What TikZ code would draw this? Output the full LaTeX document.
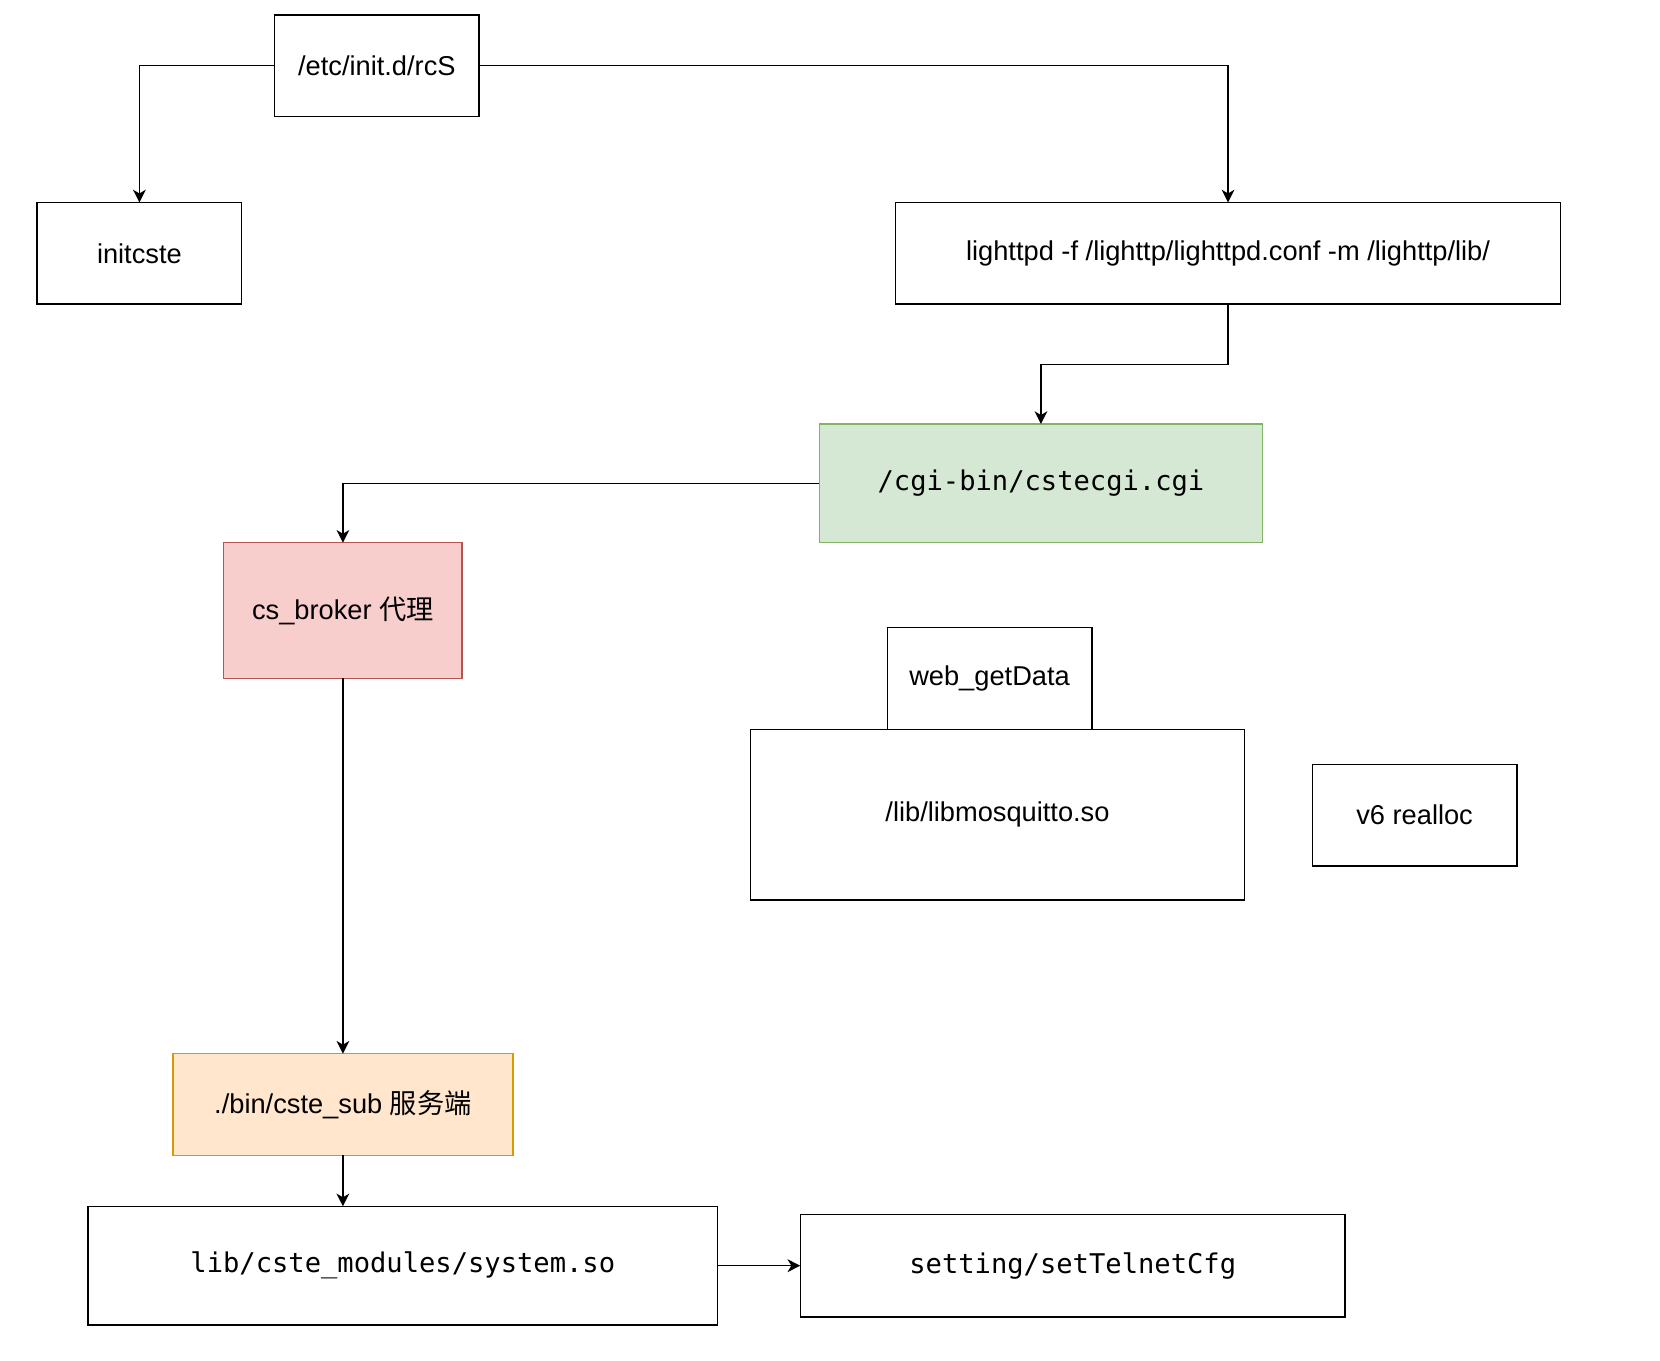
\documentclass[tikz,border=0pt]{standalone}
\usepackage{fontspec}
\setmainfont{Liberation Sans}
\setmonofont{DejaVu Sans Mono}
\newfontfamily\cjk{Noto Sans CJK SC}
\usetikzlibrary{arrows.meta}

\definecolor{greenfill}{HTML}{D5E8D4}
\definecolor{greenline}{HTML}{82B366}
\definecolor{redfill}{HTML}{F8CECC}
\definecolor{redline}{HTML}{B85450}
\definecolor{orangefill}{HTML}{FFE6CC}
\definecolor{orangeline}{HTML}{D79B00}

\tikzset{
    box/.style={draw, line width=1.4pt, inner sep=0pt, outer sep=0pt,
        font=\fontsize{25.7}{30}\selectfont},
    code/.style={font=\ttfamily\fontsize{25.6}{30}\selectfont},
    arr/.style={line width=1.4pt, -{Stealth[length=12pt,width=12pt,inset=3.5pt]}}
}

\begin{document}
\begin{tikzpicture}[x=1pt,y=-1pt]
    \useasboundingbox (0,0) rectangle (1566,1283);

    % start script and the two things it launches
    \node[box, minimum width=193, minimum height=96] (rcs) at (355.5,62) {/etc/init.d/rcS};
    \node[box, minimum width=193, minimum height=96] (initcste) at (131.5,239) {initcste};
    \node[box, minimum width=627, minimum height=96] (lighttpd) at (1158.5,239) {lighttpd -f /lighttp/lighttpd.conf -m /lighttp/lib/};

    % web side
    \node[box, code, fill=greenfill, draw=greenline, minimum width=418, minimum height=112] (cgi) at (982,456) {/cgi-bin/cstecgi.cgi};
    \node[box, fill=redfill, draw=redline, minimum width=225, minimum height=128] (broker) at (323.5,576) {cs\_broker {\cjk 代理}};

    % loose boxes, no connectors
    \node[box, minimum width=193, minimum height=96] (getdata) at (933.5,640) {web\_getData};
    \node[box, minimum width=466, minimum height=161] (mosq) at (941,768.5) {/lib/libmosquitto.so};
    \node[box, minimum width=193, minimum height=96] (realloc) at (1334.5,769) {v6 realloc};

    % server side
    \node[box, fill=orangefill, draw=orangeline, minimum width=321, minimum height=96] (csub) at (323.5,1042) {./bin/cste\_sub {\cjk 服务端}};
    \node[box, code, minimum width=594, minimum height=112] (system) at (380,1194) {lib/cste\_modules/system.so};
    \node[box, code, minimum width=514, minimum height=97] (telnet) at (1012,1194) {setting/setTelnetCfg};

    % connectors
    \draw[arr] (rcs.west) -| (initcste.north);
    \draw[arr] (rcs.east) -| (lighttpd.north);
    \draw[arr] (lighttpd.south) -- ++(0,57) -| (cgi.north);
    \draw[arr] (cgi.west) -| (broker.north);
    \draw[arr] (broker.south) -- (csub.north);
    \draw[arr] (csub.south) -- (csub.south |- system.north);
    \draw[arr] (system.east) -- (telnet.west);
\end{tikzpicture}
\end{document}
